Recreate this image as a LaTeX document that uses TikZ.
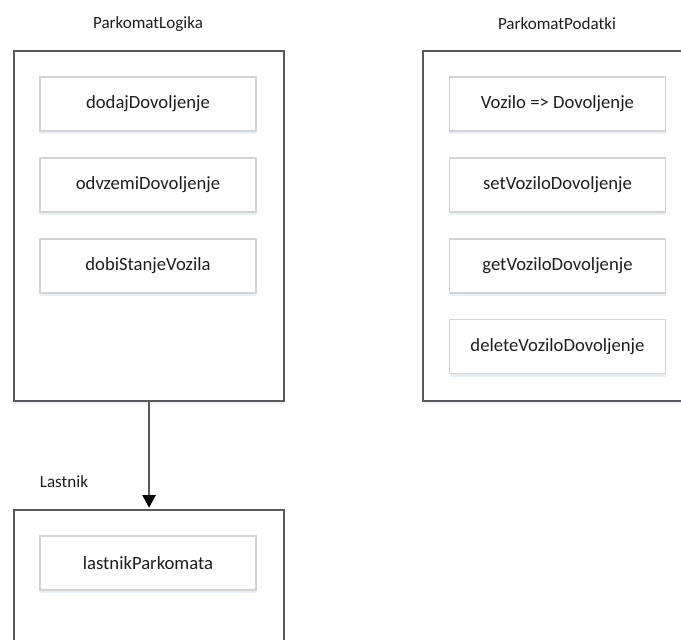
\documentclass[tikz,border=0pt]{standalone}
\usepackage{fontspec}
\setmainfont{Carlito}
\usetikzlibrary{shadows,arrows.meta}
\definecolor{framegray}{HTML}{5A5A5A}
\definecolor{opgray}{HTML}{D4D4D4}
\definecolor{shadowblue}{HTML}{C4D2E4}
\definecolor{txt}{HTML}{1E1E1E}
\tikzset{
  container/.style={draw=framegray, line width=1.6pt, fill=white,
    drop shadow={shadow xshift=0pt, shadow yshift=-2pt, fill=shadowblue, opacity=0.3}},
  opbox/.style={draw=opgray, line width=0.8pt, fill=white, minimum width=162pt,
    minimum height=40.5pt, inner sep=0pt, text=txt, font=\fontsize{14}{16}\selectfont,
    drop shadow={shadow xshift=0pt, shadow yshift=-2.5pt, fill=shadowblue, opacity=0.35}},
  caption/.style={text=txt, font=\fontsize{12.8}{15}\selectfont, inner sep=0pt},
  link/.style={draw=framegray, line width=1.2pt,
    -{Triangle[length=9.5pt,width=10pt,color=black,fill=black]}, shorten >=1pt}
}
\begin{document}
\begin{tikzpicture}[x=0.75pt, y=-0.75pt]
\useasboundingbox (0,0) rectangle (681,639);
\clip (0,0) rectangle (681,639);
\fill[white] (0,0) rectangle (681,639);

% container frames
\node[container, minimum width=202.5pt, minimum height=262.5pt, inner sep=0pt, anchor=north west]
  (logika) at (13,50) {};
\node[container, minimum width=202.5pt, minimum height=262.5pt, inner sep=0pt, anchor=north west]
  (podatki) at (422,50) {};
\node[container, minimum width=202.5pt, minimum height=120pt, inner sep=0pt, anchor=north west]
  (lastnik) at (13,509) {};

% captions
\node[caption] (tLogika) at (148,24) {ParkomatLogika};
\node[caption] (tPodatki) at (557,24) {ParkomatPodatki};
\node[caption] (tLastnik) at (64,482) {Lastnik};

% operations of ParkomatLogika
\node[opbox] (dodaj) at (148,104) {dodajDovoljenje};
\node[opbox] (odvzemi) at (148,185) {odvzemiDovoljenje};
\node[opbox] (dobi) at (148,266) {dobiStanjeVozila};

% operations of ParkomatPodatki
\node[opbox] (map) at (557.5,104) {Vozilo => Dovoljenje};
\node[opbox] (setv) at (557.5,185) {setVoziloDovoljenje};
\node[opbox] (getv) at (557.5,266) {getVoziloDovoljenje};
\node[opbox] (delv) at (557.5,346.5) {deleteVoziloDovoljenje};

% operation of Lastnik
\node[opbox] (lastnikP) at (148,563) {lastnikParkomata};

% dependency arrow
\draw[link] (logika.south) -- (lastnik.north);
\end{tikzpicture}
\end{document}
